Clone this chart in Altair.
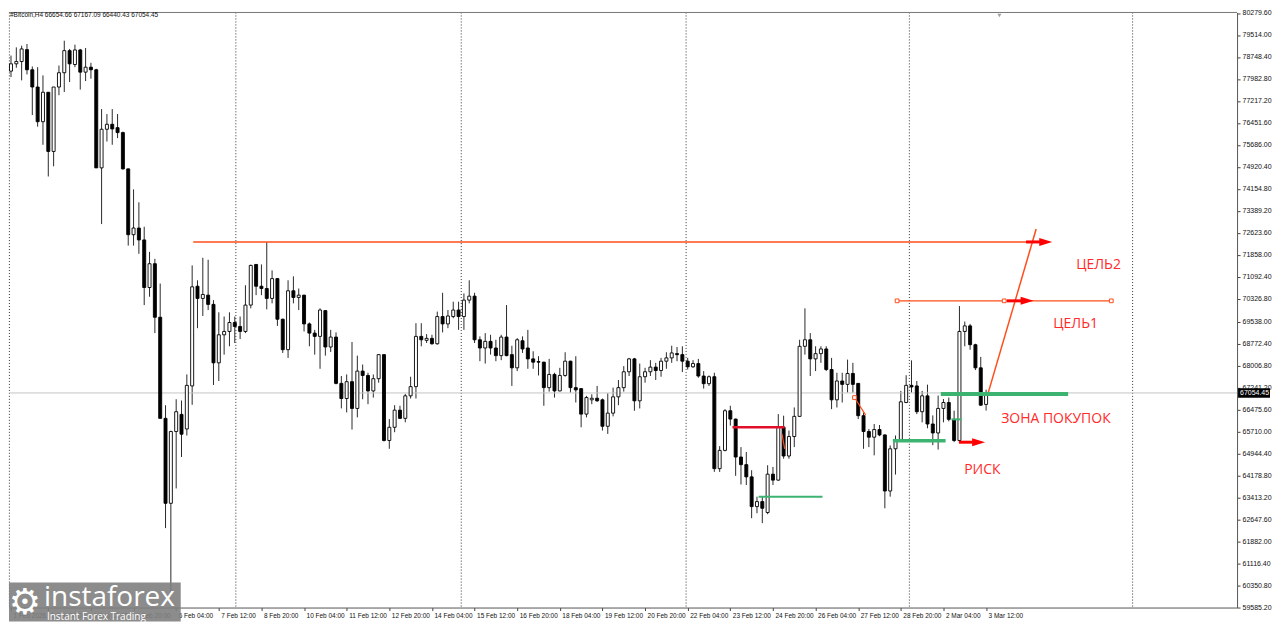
import altair as alt
import pandas as pd

# ---------------- data (H4 candles, 1 Feb 2026 00:00 .. 3 Mar 2026 12:00) ----------------
OPEN = [78255, 78510, 78590, 79004, 78303, 77703, 76495, 77520, 75460, 77703,
        78200, 78969, 78486, 78993, 78220, 78393, 78303, 74888, 76233, 76406,
        76288, 76116, 74853, 72562, 72794, 72380, 70724, 71552, 69689, 66170,
        63213, 65711, 66308, 65800, 67298, 70768, 70344, 70458, 70137, 68102,
        69078, 69195, 69506, 69368, 69195, 70113, 71527, 70768, 70689, 70344,
        71034, 69620, 68560, 70610, 70379, 70458, 69457, 69137, 69023, 69920,
        68654, 68999, 67387, 66860, 67446, 66515, 67815, 67663, 67125, 67550,
        68388, 65400, 65859, 66456, 66170, 66953, 67274, 69023, 68885, 68954,
        68767, 69713, 69457, 69713, 69940, 69713, 70285, 70423, 68905, 68619,
        68850, 68619, 68353, 68999, 68388, 67929, 68871, 68619, 68240, 68146,
        68126, 67239, 67698, 67125, 67663, 68160, 67239, 67205, 66318, 66815,
        66870, 66815, 65894, 66352, 66918, 67239, 67791, 68240, 66780, 67619,
        67791, 67953, 67836, 68160, 68274, 68422, 68388, 68160, 67964, 68077,
        67643, 67377, 67619, 64420, 65055, 66435, 66145, 64824, 64558, 64134,
        63099, 63272, 62892, 64227, 64020, 65859, 64859, 65538, 66239, 68678,
        68905, 68240, 68422, 68585, 67870, 66815, 67470, 67353, 67732, 67387,
        66263, 65711, 65514, 65780, 65593, 63641, 65110, 65435, 66722, 67318,
        67298, 66401, 66953, 65973, 65662, 66515, 66722, 66135, 65400, 69195,
        69388, 68733, 67929, 66654.66]
HIGH = [78797, 79083, 79142, 79200, 78417, 78393, 78107, 77520, 77703, 78452,
        79314, 79028, 79176, 79028, 79062, 78545, 78338, 76934, 76761, 76934,
        76761, 76150, 74864, 74139, 73691, 72838, 71966, 71724, 70862, 66628,
        65740, 66835, 66791, 67698, 71493, 70975, 71759, 71690, 70285, 69861,
        69713, 69861, 69713, 69713, 70803, 71520, 71540, 71527, 72300, 71320,
        71050, 69640, 70975, 71113, 70689, 70470, 69506, 69250, 69999, 69940,
        69250, 69161, 67643, 67698, 68826, 68353, 68043, 67757, 67698, 68400,
        68400, 66145, 66628, 66608, 67022, 67619, 69482, 69482, 69102, 69078,
        69885, 70541, 69940, 70230, 70230, 70517, 70975, 70541, 69023, 69137,
        69078, 68905, 69078, 70113, 68698, 68964, 69023, 69250, 68505, 68333,
        68140, 68240, 67757, 67929, 68471, 68175, 68333, 67215, 66953, 67008,
        67298, 66860, 67042, 67239, 67505, 67988, 68274, 68274, 68077, 67929,
        68195, 68102, 68274, 68471, 68698, 68654, 68678, 68274, 68195, 68240,
        67815, 67663, 67757, 65204, 66490, 66608, 66160, 65169, 64997, 64365,
        63444, 63444, 64538, 64479, 66318, 66263, 65745, 66549, 68905, 69999,
        69137, 68678, 68678, 68678, 68274, 67757, 67757, 68215, 68102, 67400,
        66377, 65800, 65973, 65938, 65610, 65228, 65573, 67125, 67670, 68188,
        67470, 67125, 67343, 66273, 66963, 66842, 66894, 66435, 70078, 69540,
        69457, 68767, 68309, 67167.09]
LOW = [78048, 78372, 77934, 78141, 76727, 76323, 75692, 74588, 74943, 77417,
       77530, 77875, 78393, 77613, 77910, 77993, 74888, 72932, 75805, 75692,
       75923, 74829, 72183, 72183, 71897, 70113, 70403, 69137, 66170, 62350,
       60000, 63730, 64824, 65573, 66642, 69309, 69733, 69940, 67332, 67470,
       68388, 68678, 68792, 68930, 69137, 69999, 70458, 70458, 69965, 70172,
       69388, 68447, 68274, 70172, 69940, 69195, 68678, 68388, 67895, 68353,
       68481, 67353, 66515, 66377, 65780, 66204, 66835, 66663, 66894, 67412,
       65366, 65110, 65687, 66145, 66032, 66860, 66860, 68678, 68792, 68733,
       68733, 69161, 69309, 69654, 69250, 69250, 70172, 68792, 68160, 68077,
       68388, 68160, 68195, 68333, 67298, 67815, 68447, 67895, 67895, 67663,
       66608, 67101, 66894, 67110, 67619, 67067, 66722, 65859, 66204, 66663,
       66746, 65745, 65628, 66239, 66628, 67101, 67643, 66435, 66515, 67412,
       67643, 67505, 67619, 67895, 68102, 68160, 67781, 67870, 67929, 67584,
       67205, 67298, 64307, 64307, 65021, 65918, 64169, 63868, 63848, 62695,
       62868, 62523, 62833, 63848, 64000, 64765, 64765, 65169, 66220, 68388,
       67643, 67815, 68102, 67815, 66490, 66549, 66722, 67067, 67067, 66145,
       65110, 65169, 64883, 65549, 63040, 63444, 64213, 65420, 66700, 67067,
       66318, 66032, 65825, 65238, 65083, 66032, 66066, 65342, 65342, 68678,
       68560, 67850, 66608, 66440.43]
CLOSE = [78510, 78590, 79028, 78303, 77703, 76495, 77520, 75460, 77703, 78200,
         78969, 78510, 78993, 78220, 78393, 78303, 74888, 76233, 76406, 76244,
         76116, 74853, 72562, 72794, 72380, 70724, 71552, 69689, 66170, 63213,
         65711, 66401, 65618, 67318, 70748, 70344, 70482, 70137, 68102, 69078,
         69195, 69506, 69368, 69195, 70113, 71493, 70768, 70689, 70344, 71034,
         69620, 68560, 70610, 70379, 70458, 69457, 69137, 69023, 69940, 68654,
         68999, 67387, 66860, 67446, 66515, 67815, 67663, 67125, 67550, 68388,
         65400, 65859, 66456, 66170, 66953, 67274, 69023, 68905, 68954, 68767,
         69713, 69457, 69733, 69940, 69713, 70285, 70423, 68905, 68619, 68850,
         68619, 68353, 68999, 68353, 67929, 68905, 68585, 68240, 68126, 68126,
         67239, 67698, 67125, 67663, 68160, 67239, 67160, 66318, 66894, 66870,
         66780, 65894, 66352, 66918, 67239, 67791, 68240, 66780, 67619, 67791,
         67953, 67836, 68160, 68274, 68447, 68388, 68160, 67964, 68077, 67643,
         67377, 67619, 64420, 65055, 66435, 66145, 64824, 64558, 64134, 63099,
         63272, 63040, 64227, 64020, 65859, 64859, 65538, 66239, 68678, 68905,
         68240, 68422, 68585, 67870, 66815, 67470, 67353, 67732, 67353, 66263,
         65711, 65514, 65780, 65593, 63641, 65110, 65435, 66746, 67318, 67263,
         66401, 66953, 65973, 65662, 66515, 66722, 66135, 65400, 69195, 69388,
         68733, 67929, 66628, 67054.45]

TICK_IDX = [0, 7, 15, 23, 31, 39, 47, 55, 63, 71, 79, 87, 95, 103, 111, 119,
            127, 135, 143, 151, 159, 167, 175, 183]
TICK_LABELS = ["1 Feb 2026", "2 Feb 04:00", "3 Feb 12:00", "4 Feb 20:00", "6 Feb 04:00",
               "7 Feb 12:00", "8 Feb 20:00", "10 Feb 04:00", "11 Feb 12:00", "12 Feb 20:00",
               "14 Feb 04:00", "15 Feb 12:00", "16 Feb 20:00", "18 Feb 04:00", "19 Feb 12:00",
               "20 Feb 20:00", "22 Feb 04:00", "23 Feb 12:00", "24 Feb 20:00", "26 Feb 04:00",
               "27 Feb 12:00", "28 Feb 20:00", "2 Mar 04:00", "3 Mar 12:00"]
PRICE_TICKS = [80279.60, 79514.00, 78748.40, 77982.80, 77217.20, 76451.60, 75686.00,
               74920.40, 74154.80, 73389.20, 72623.60, 71858.00, 71092.40, 70326.80,
               69538.00, 68772.40, 68006.80, 67241.20, 66475.60, 65710.00, 64944.40,
               64178.80, 63413.20, 62647.60, 61882.00, 61116.40, 60350.80, 59585.20]
GRID_IDX = [-0.3, 42.2, 84.5, 126.7, 168.6, 210.5]

# drawn objects (bar index, price)
SEG_X = [34.2, 166.3, 183.35, 174.5, 165.5, 176.5, 135.4, 140.3, 158.3, 144.7]
SEG_X2 = [191.1, 206.5, 192.4, 198.4, 175.4, 178.4, 145.2, 152.3, 160.4, 145.2]
SEG_Y = [72310, 70260, 67031, 67015, 65393, 66135, 65859, 63444, 66894, 65628]
SEG_Y2 = [72310, 70260, 72759, 67015, 65393, 66135, 65859, 63444, 66283, 65110]
SEG_COLOR = ["#ff4d1a", "#ff4d1a", "#ff4d1a", "#3cb371", "#3cb371", "#3cb371",
             "#e0102a", "#3cb371", "#ff4d1a", "#ff4d1a"]
SEG_W = [1.5, 1.3, 1.5, 4, 3.5, 2, 2.5, 2, 1.2, 1.2]

ARROW_X = [190.5, 186.9, 177.9]
ARROW_X2 = [193.1, 189.6, 180.5]
ARROW_HEAD = [194.2, 190.7, 181.6]
ARROW_Y = [72310, 70260, 65340]

SQ_X = [166.3, 186.4, 206.5, 158.3]
SQ_Y = [70260, 70260, 70260, 66894]

NOTE_TEXT = ["ЦЕЛЬ2", "ЦЕЛЬ1", "ЗОНА ПОКУПОК", "РИСК"]
NOTE_X = [204.1, 199.8, 196.1, 182.3]
NOTE_Y = [71517, 69447, 66135, 64375]

SYMBOL = "#Bitcoin,H4"

# ---------------- chart ----------------
W, H = 1230, 596
XS = alt.Scale(domain=[-0.375, 230.1], nice=False, zero=False, padding=0)
YS = alt.Scale(domain=[59585, 80297], nice=False, zero=False, padding=0)
FONT = "Liberation Sans"

candles = pd.DataFrame({"i": list(range(len(OPEN))), "open": OPEN, "high": HIGH,
                        "low": LOW, "close": CLOSE})
candles["dir"] = ["up" if c > o else "down" for o, c in zip(OPEN, CLOSE)]

labels_js = "[" + ",".join("'" + t + "'" for t in TICK_LABELS) + "]"
idx_js = "[" + ",".join(str(v) for v in TICK_IDX) + "]"
X_AXIS = alt.Axis(values=TICK_IDX, labelExpr=f"{labels_js}[indexof({idx_js}, datum.value)]",
                  labelAlign="left", labelOffset=2, labelFontSize=6.5, labelFont=FONT,
                  labelColor="#111", tickSize=3, tickColor="#444", domainColor="#555",
                  labelPadding=2, labelOverlap=False, labelFlush=False,
                  grid=False, title=None)
Y_AXIS = alt.Axis(orient="right", values=PRICE_TICKS, format=".2f", labelFontSize=7,
                  labelFont=FONT, labelColor="#111", tickSize=3, tickColor="#444",
                  domainColor="#555", labelPadding=2, labelOverlap=False, labelFlush=False,
                  grid=False, title=None)


def X(f):
    return alt.X(f, type="quantitative", scale=XS, axis=X_AXIS)


def Y(f):
    return alt.Y(f, type="quantitative", scale=YS, axis=Y_AXIS)


last_close = CLOSE[-1]
one = pd.DataFrame({"a": [0]})

wicks = alt.Chart(candles).mark_rule(color="#2a2a2a", strokeWidth=1).encode(
    x=X("i"), y=Y("low"), y2="high:Q")

grid = alt.Chart(pd.DataFrame({"g": GRID_IDX})).mark_rule(
    color="#333", strokeDash=[1, 2], strokeWidth=1).encode(x=X("g"))

price_line = alt.Chart(pd.DataFrame({"p": [last_close]})).mark_rule(
    color="#c4c4c4", strokeWidth=1).encode(y=Y("p"))

top_rule = alt.Chart(one).mark_rule(color="#777", strokeWidth=1).encode(y=alt.value(0))

bodies = alt.Chart(candles).mark_bar(size=3, stroke="#000", strokeWidth=0.9).encode(
    x=X("i"), y=Y("open"), y2="close:Q",
    fill=alt.Fill("dir:N", scale=alt.Scale(domain=["up", "down"], range=["#ffffff", "#000000"]),
                  legend=None))

segs = alt.Chart(pd.DataFrame({"x": SEG_X, "x2": SEG_X2, "y": SEG_Y, "y2": SEG_Y2,
                               "c": SEG_COLOR, "w": SEG_W})).mark_rule().encode(
    x=X("x"), x2="x2:Q", y=Y("y"), y2="y2:Q",
    color=alt.Color("c:N", scale=None), strokeWidth=alt.StrokeWidth("w:Q", scale=None))

arrow_df = pd.DataFrame({"x": ARROW_X, "x2": ARROW_X2, "h": ARROW_HEAD, "y": ARROW_Y})
shafts = alt.Chart(arrow_df).mark_rule(color="#ff0000", strokeWidth=3).encode(
    x=X("x"), x2="x2:Q", y=Y("y"))
heads = alt.Chart(arrow_df).mark_point(shape="M-1,-0.62L1,0L-1,0.62Z", filled=True,
                                       color="#ff0000", opacity=1, size=169).encode(
    x=X("h"), y=Y("y"))

squares = alt.Chart(pd.DataFrame({"x": SQ_X, "y": SQ_Y})).mark_point(
    shape="square", size=14, fill="white", stroke="#ff4d1a", strokeWidth=1, opacity=1).encode(
    x=X("x"), y=Y("y"))

notes = alt.Chart(pd.DataFrame({"t": NOTE_TEXT, "x": NOTE_X, "y": NOTE_Y})).mark_text(
    font="Open Sans", fontSize=14, color="#ff2a2a", align="center", baseline="middle").encode(
    x=X("x"), y=Y("y"), text="t:N")

shift_mark = alt.Chart(pd.DataFrame({"x": [185.5]})).mark_point(
    shape="triangle-down", filled=True, color="#a0a0a0", size=16, opacity=1).encode(
    x=X("x"), y=alt.value(3))

header_txt = f"{SYMBOL}  {OPEN[-1]:.2f} {HIGH[-1]:.2f} {LOW[-1]:.2f} {CLOSE[-1]:.2f}"
header = alt.Chart(pd.DataFrame({"t": [header_txt]})).mark_text(
    font=FONT, fontSize=6.5, color="#111", align="left", baseline="top").encode(
    x=alt.value(1), y=alt.value(0), text="t:N")

box = alt.Chart(pd.DataFrame({"p": [last_close]})).mark_point(
    shape="M-1,-0.3L1,-0.3L1,0.3L-1,0.3Z", filled=True, color="#000", opacity=1,
    size=1024).encode(x=alt.value(W + 17), y=Y("p"))
box_txt = alt.Chart(pd.DataFrame({"p": [last_close], "t": [f"{last_close:.2f}"]})).mark_text(
    font=FONT, fontSize=7, color="#fff", align="left", baseline="middle").encode(
    x=alt.value(W + 3), y=Y("p"), text="t:N")

logo_rect = alt.Chart(one).mark_rect(color="#808080", opacity=0.9).encode(
    x=alt.value(0), x2=alt.value(172), y=alt.value(571), y2=alt.value(610))
logo_gear = alt.Chart(pd.DataFrame({"t": ["\u2699"]})).mark_text(
    font="DejaVu Sans", fontSize=36, color="#ffffff", align="center", baseline="middle").encode(
    x=alt.value(16), y=alt.value(591), text="t:N")
logo_name = alt.Chart(pd.DataFrame({"t": ["instaforex"]})).mark_text(
    font="Open Sans", fontSize=28, color="#ffffff", align="left", baseline="alphabetic").encode(
    x=alt.value(35), y=alt.value(594), text="t:N")
logo_sub = alt.Chart(pd.DataFrame({"t": ["Instant Forex Trading"]})).mark_text(
    font="Open Sans", fontSize=10, color="#ffffff", align="left", baseline="alphabetic").encode(
    x=alt.value(38), y=alt.value(608), text="t:N")

chart = alt.layer(
    wicks, grid, price_line, top_rule, bodies, segs, shafts, heads, squares, notes,
    shift_mark, header, box, box_txt, logo_rect, logo_gear, logo_name, logo_sub
).properties(width=W, height=H, padding=0, background="#ffffff").configure_view(stroke=None)

chart.save("out.html", embed_options={"renderer": "svg", "actions": False})
